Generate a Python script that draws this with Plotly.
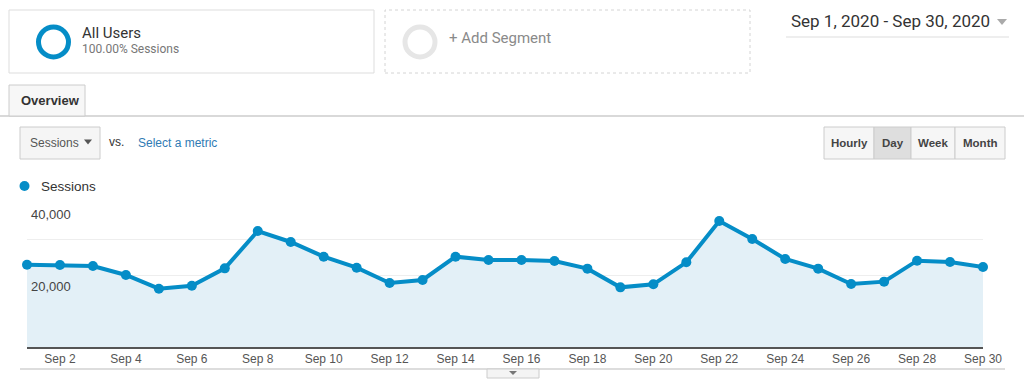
import plotly.graph_objects as go

# ---------------- data ----------------
dates = ["2020-09-%02d" % d for d in range(1, 31)]
sessions = [22860, 22780, 22500, 20000, 16200, 17030, 21850, 32220, 29170, 25090,
            22030, 17780, 18610, 25090, 24170, 24170, 23890, 21760, 16570, 17410,
            23520, 35000, 30000, 24440, 21760, 17500, 18150, 23980, 23610, 22220]
xtick_vals = ["2020-09-02", "2020-09-04", "2020-09-06", "2020-09-08", "2020-09-10",
              "2020-09-12", "2020-09-14", "2020-09-16", "2020-09-18", "2020-09-20",
              "2020-09-22", "2020-09-24", "2020-09-26", "2020-09-28", "2020-09-30"]
xtick_text = ["Sep 2", "Sep 4", "Sep 6", "Sep 8", "Sep 10", "Sep 12", "Sep 14", "Sep 16",
              "Sep 18", "Sep 20", "Sep 22", "Sep 24", "Sep 26", "Sep 28", "Sep 30"]
grid_vals = [0, 10000, 20000, 30000, 40000]
ylabel_vals = [20000, 40000]
ylabel_text = ["20,000", "40,000"]
buttons = ["Hourly", "Day", "Week", "Month"]

# ---------------- helpers ----------------
W, H = 1024, 388
BLUE = "#058dc7"


def px(x):
    return x / W


def py(y):
    return 1 - y / H


shapes = []
annotations = []


def rect(x0, y0, x1, y1, line="#cccccc", fill="white", dash="solid", width=1):
    shapes.append(dict(type="rect", xref="paper", yref="paper",
                       x0=px(x0), x1=px(x1), y0=py(y1), y1=py(y0),
                       line=dict(color=line, width=width, dash=dash), fillcolor=fill))


def hline(x0, x1, y, color, width=1):
    shapes.append(dict(type="line", xref="paper", yref="paper",
                       x0=px(x0), x1=px(x1), y0=py(y), y1=py(y),
                       line=dict(color=color, width=width)))


def circle(cx, cy, r, line=None, width=0, fill="rgba(0,0,0,0)"):
    shapes.append(dict(type="circle", xref="paper", yref="paper",
                       x0=px(cx - r), x1=px(cx + r), y0=py(cy + r), y1=py(cy - r),
                       line=dict(color=line or "rgba(0,0,0,0)", width=width), fillcolor=fill))


def tri(cx, cy, w, h, color):
    p = "M %f %f L %f %f L %f %f Z" % (px(cx - w / 2), py(cy - h / 2), px(cx + w / 2),
                                       py(cy - h / 2), px(cx), py(cy + h / 2))
    shapes.append(dict(type="path", xref="paper", yref="paper", path=p,
                       line=dict(width=0), fillcolor=color))


def text(x, y, s, size=12, color="#333333", family="Arial, Liberation Sans", anchor="left"):
    annotations.append(dict(xref="paper", yref="paper", x=px(x), y=py(y), text=s,
                            showarrow=False, xanchor=anchor, yanchor="middle",
                            font=dict(size=size, color=color, family=family)))


# ---------------- header UI ----------------
rect(9, 10, 374, 73, line="#dddddd")
circle(53.5, 42, 15, line=BLUE, width=5)
text(80, 33, "All Users", 15, "#333333", "Roboto")
text(80, 49, "100.00% Sessions", 12, "#777777", "Roboto")

rect(385, 10, 750, 73, line="#d4d4d4", dash="dot")
circle(420, 42, 15, line="#e6e6e6", width=5)
text(447, 38, "+ Add Segment", 15, "#8a8a8a", "Roboto")

text(789, 21, "Sep 1, 2020 - Sep 30, 2020", 17, "#333333", "Roboto")
tri(1002, 22, 10, 6, "#aaaaaa")
hline(786, 1009, 37, "#dddddd", 1)

hline(0, 1024, 116, "#cccccc", 1.5)
rect(9, 85, 85, 116, line="#cccccc", fill="#f7f7f7")
text(19, 101, "<b>Overview</b>", 13, "#333333")

rect(20, 127, 100, 159, line="#cccccc", fill="#f5f5f5")
text(28, 143, "Sessions", 12, "#555555")
tri(88, 142, 8, 5, "#555555")
text(107, 142, "vs.", 12, "#333333")
text(136, 143, "Select a metric", 12, "#2f7bb4")

btn_edges = [824, 874, 911, 955, 1005]
for i, b in enumerate(buttons):
    x0, x1 = btn_edges[i], btn_edges[i + 1]
    rect(x0, 127, x1, 159, line="#cccccc", fill="#dedede" if b == "Day" else "#f6f6f6")
    text((x0 + x1) / 2, 143, "<b>%s</b>" % b, 11.5, "#444444", anchor="center")

circle(24.5, 186, 5, fill=BLUE)
text(39, 186, "Sessions", 13.5, "#333333")

hline(20, 1005, 369, "#dddddd", 2)
rect(487, 369, 539, 378, line="#cccccc", fill="#f4f4f4")
tri(513, 373, 8, 4, "#777777")

# y labels (inside chart, below gridlines)
for v, t in zip(ylabel_vals, ylabel_text):
    annotations.append(dict(xref="paper", yref="y", x=px(29), y=v, text=t, showarrow=False,
                            xanchor="left", yanchor="top", yshift=-2,
                            font=dict(size=13, color="#444444", family="Arial, Liberation Sans")))

# ---------------- chart ----------------
fig = go.Figure()
fig.add_trace(go.Scatter(
    x=dates, y=sessions, mode="lines+markers",
    line=dict(color=BLUE, width=4),
    marker=dict(size=10, color=BLUE),
    fill="tozeroy", fillcolor="#e3f0f7",
    cliponaxis=False, hoverinfo="skip"))

fig.update_layout(
    width=W, height=H, autosize=False,
    margin=dict(l=0, r=0, t=0, b=0, pad=0),
    paper_bgcolor="white", plot_bgcolor="white",
    showlegend=False,
    shapes=shapes, annotations=annotations,
    xaxis=dict(domain=[px(27), px(983)], type="date", range=[dates[0], dates[-1]],
               tickvals=xtick_vals, ticktext=xtick_text, showgrid=False,
               showline=True, linecolor="#555555", linewidth=2, ticks="",
               zeroline=False, fixedrange=True, automargin=False,
               tickfont=dict(size=12, color="#555555", family="Arial, Liberation Sans")),
    yaxis=dict(domain=[py(347), py(203)], range=[0, 40000], tickvals=grid_vals,
               showgrid=True, gridcolor="#eeeeee", gridwidth=1, showticklabels=False,
               zeroline=False, showline=False, fixedrange=True, automargin=False),
)

fig.write_html("out.html", config={"responsive": False, "displayModeBar": False},
               post_script="document.body.style.margin='0px';document.body.style.overflow='hidden';")
